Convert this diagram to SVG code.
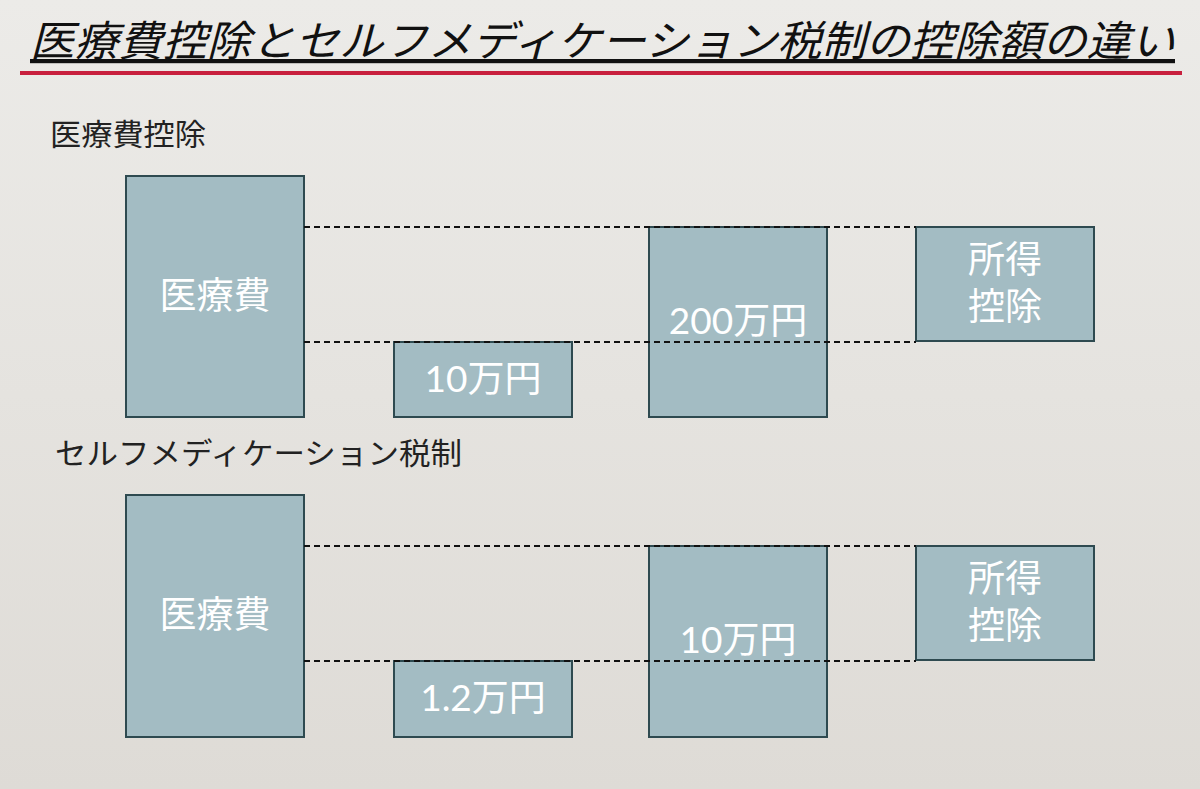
<svg xmlns="http://www.w3.org/2000/svg" width="1200" height="789" viewBox="0 0 1200 789">
<defs>
<linearGradient id="bg" x1="0" y1="0" x2="0" y2="1"><stop offset="0" stop-color="#ecebe8"/><stop offset="1" stop-color="#dedbd6"/></linearGradient>
</defs>
<style>
.b{fill:#a3bcc3;stroke:#2e4a50;stroke-width:2}
.t{font-family:"Lato","Noto Sans CJK JP",sans-serif;fill:#fff;font-size:37px;text-anchor:middle}
.d{stroke:#111;stroke-width:1.8;stroke-dasharray:6,4;fill:none}
.h{font-family:"Noto Sans CJK JP",sans-serif;font-size:30px;fill:#222}
</style>
<rect width="1200" height="789" fill="url(#bg)"/>
<text x="30" y="56" font-family="Noto Sans CJK JP,sans-serif" font-size="42" font-style="italic" fill="#111" text-decoration="underline" textLength="1145" lengthAdjust="spacingAndGlyphs">医療費控除とセルフメディケーション税制の控除額の違い</text>
<rect x="20" y="71" width="1162" height="4" fill="#c8203e"/>
<text class="h" x="50" y="145" textLength="156" lengthAdjust="spacingAndGlyphs">医療費控除</text>
<text class="h" x="55" y="464" textLength="407" lengthAdjust="spacingAndGlyphs">セルフメディケーション税制</text>
<g id="n1"><rect class="b" x="126" y="176" width="178" height="241"/><text class="t" x="215" y="309">医療費</text></g>
<g id="n2"><rect class="b" x="394" y="342" width="178" height="75"/><text class="t" x="483" y="392">10万円</text></g>
<g id="n3"><rect class="b" x="649" y="227" width="178" height="190"/><text class="t" x="738" y="334">200万円</text></g>
<g id="n4"><rect class="b" x="916" y="227" width="178" height="114"/><text class="t" x="1005" y="273">所得</text><text class="t" x="1005" y="320">控除</text></g>
<g id="n5"><rect class="b" x="126" y="495" width="178" height="242"/><text class="t" x="215" y="628">医療費</text></g>
<g id="n6"><rect class="b" x="394" y="661" width="178" height="76"/><text class="t" x="483" y="711">1.2万円</text></g>
<g id="n7"><rect class="b" x="649" y="546" width="178" height="191"/><text class="t" x="738" y="653">10万円</text></g>
<g id="n8"><rect class="b" x="916" y="546" width="178" height="114"/><text class="t" x="1005" y="592">所得</text><text class="t" x="1005" y="639">控除</text></g>
<g id="connectors">
<line class="d" x1="304" y1="227" x2="916" y2="227"/>
<line class="d" x1="304" y1="342" x2="916" y2="342"/>
<line class="d" x1="304" y1="546" x2="916" y2="546"/>
<line class="d" x1="304" y1="661" x2="916" y2="661"/>
</g>
</svg>
